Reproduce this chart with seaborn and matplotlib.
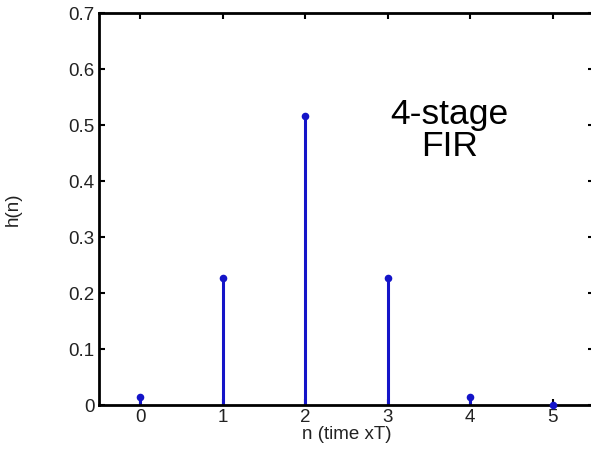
import matplotlib
matplotlib.use("Agg")
import matplotlib.pyplot as plt
import seaborn as sns
import pandas as pd
import numpy as np

n = [0, 1, 2, 3, 4, 5]
h = [0.014, 0.227, 0.516, 0.227, 0.014, 0.0]
xticks = [0, 1, 2, 3, 4, 5]
yticks = [0, 0.1, 0.2, 0.3, 0.4, 0.5, 0.6, 0.7]

sns.set_style("ticks")
plt.rcParams['font.family'] = ['Liberation Sans', 'DejaVu Sans']

fig = plt.figure(figsize=(5.91, 4.5), dpi=100)
ax = fig.add_axes([99/591, 45/450, 495/591, 392/450])

df = pd.DataFrame({"n": n, "h": h})
color = "#1414C8"
ax.vlines(df["n"], 0, df["h"], color=color, linewidth=2.2, zorder=2)
sns.scatterplot(data=df, x="n", y="h", ax=ax, color=color, s=30,
                edgecolor=color, linewidth=0, zorder=3, clip_on=False)

ax.set_xlim(-0.5, 5.5)
ax.set_ylim(0, 0.7)
ax.set_xticks(xticks)
ax.set_xticklabels([str(t) for t in xticks])
ax.set_yticks(yticks)
ax.set_yticklabels(["0"] + [f"{t:.1f}" for t in yticks[1:]])
ax.tick_params(direction="in", length=4, width=1.5, top=True, right=True,
               labelsize=13.5, colors="black", labelcolor="#222222", pad=3)
for s in ax.spines.values():
    s.set_linewidth(2)
    s.set_color("black")
    s.set_visible(True)

ax.set_xlabel("n (time xT)", fontsize=13.5, labelpad=0, color="#222222")
ax.set_ylabel("h(n)", fontsize=13.5, labelpad=34, color="#222222")
ax.text(3.75, 0.49, "4-stage\nFIR", fontsize=25.5, ha="center", va="center",
        linespacing=0.95, color="black")

fig.savefig("out.png", dpi=100)
